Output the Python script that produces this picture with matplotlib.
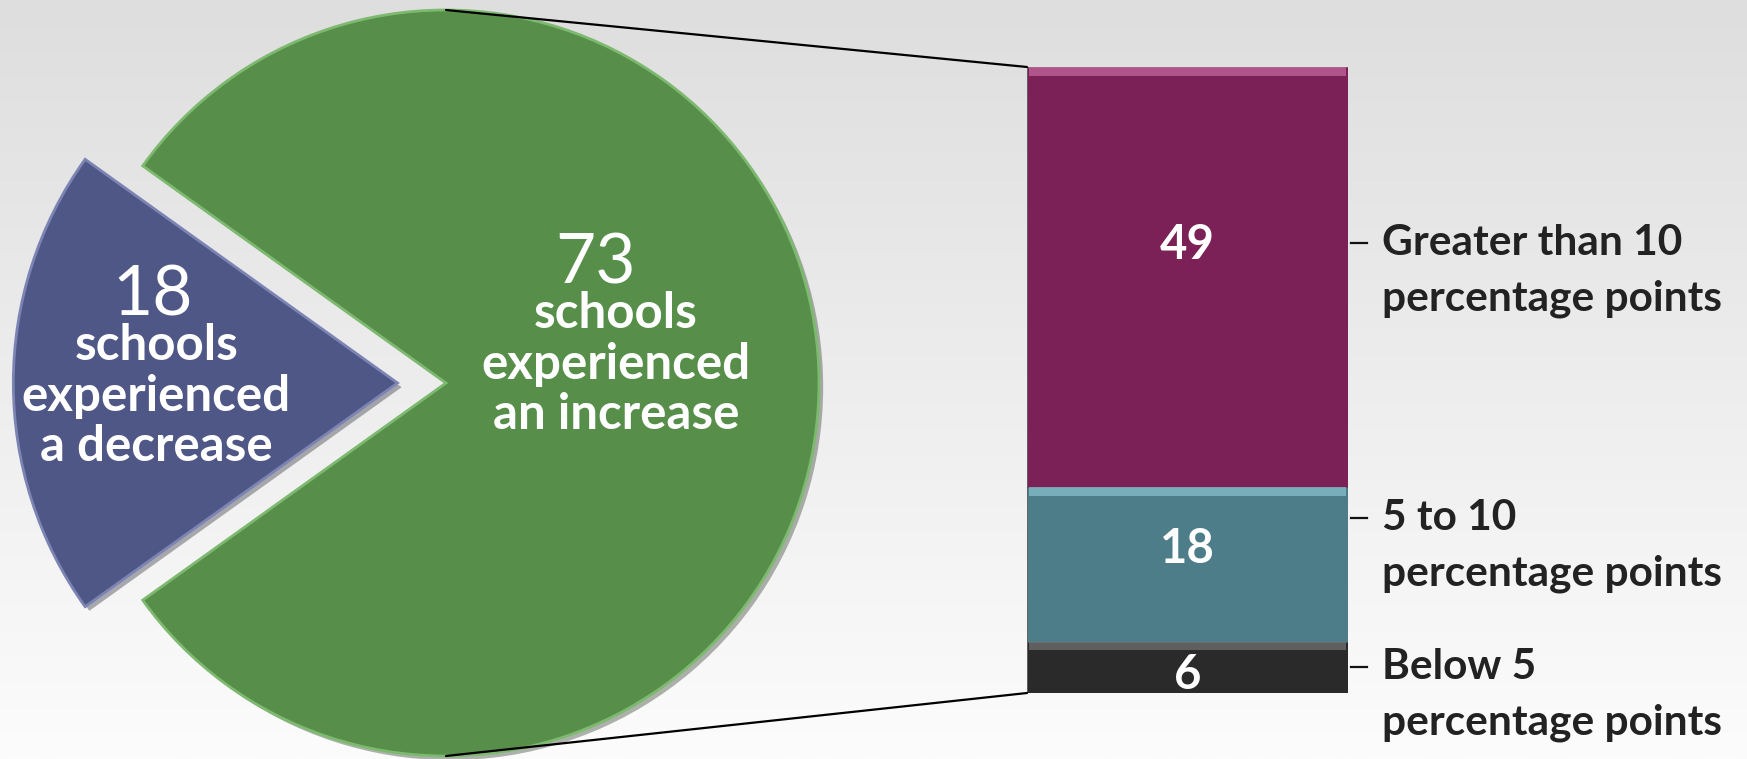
import numpy as np
import matplotlib.pyplot as plt
import matplotlib.patheffects as pe
from matplotlib.patches import ConnectionPatch
from matplotlib.colors import LinearSegmentedColormap

plt.rcParams['font.family'] = ['Lato', 'DejaVu Sans']

# pie: schools with an increase / a decrease
pie_values = [73, 18]
pie_numbers = ['73', '18']
pie_captions = [['schools', 'experienced', 'an increase'],
                ['schools', 'experienced', 'a decrease']]
pie_colors = ['#568E4A', '#4F5786']
pie_rims = ['#7DB96F', '#7C84B4']

# stacked bar: size of the increase (bottom to top)
bar_values = [6, 18, 49]
bar_labels = [['Below 5', 'percentage points'],
              ['5 to 10', 'percentage points'],
              ['Greater than 10', 'percentage points']]
bar_colors = ['#2A2A2A', '#4C7D88', '#7B2157']
bar_bevels = ['#777777', '#8CC3CF', '#C96BA2']

W, H = 1747, 759
fig = plt.figure(figsize=(W / 100, H / 100), dpi=100)


def px_box(left, top, w, h):
    return [left / W, 1 - (top + h) / H, w / W, h / H]


# background gradient
bg = fig.add_axes([0, 0, 1, 1], zorder=-10)
grad = np.linspace(0, 1, 256).reshape(-1, 1)
bg.imshow(grad, aspect='auto', extent=[0, 1, 0, 1],
          cmap=LinearSegmentedColormap.from_list('bg', ['#DEDEDE', '#FCFCFC']))
bg.axis('off')

# ---- pie ----
R = 373          # pie radius in px
cx, cy = 446, 383
half = 420
ax_pie = fig.add_axes(px_box(cx - half, cy - half, 2 * half, 2 * half))
total = sum(pie_values)
wedges, _ = ax_pie.pie(pie_values, colors=pie_colors, explode=[0, 0.13],
                       startangle=-180 * pie_values[0] / total, counterclock=True,
                       wedgeprops=dict(linewidth=2))
wedges[1].set_radius(1.03)
for w, rim in zip(wedges, pie_rims):
    w.set_edgecolor(rim)
    w.set_path_effects([pe.SimplePatchShadow(offset=(3, -3), alpha=0.35), pe.Normal()])
lim = half / R
ax_pie.set_xlim(-lim, lim)
ax_pie.set_ylim(-lim, lim)
ax_pie.axis('off')

# pie texts (positions in pie radius units): number x, number baseline, caption x
text_pos = [(0.402, 0.268, 0.456), (-0.786, 0.182, -0.777)]
for (nx, ny, tx), num, lines in zip(text_pos, pie_numbers, pie_captions):
    ax_pie.text(nx, ny, num, color='white', fontsize=50, ha='center', va='baseline')
    for k, line in enumerate(lines):
        ax_pie.text(tx, ny - 0.121 - 0.135 * k, line, color='white', fontsize=35.5,
                    fontweight='bold', ha='center', va='baseline')

# ---- stacked bar ----
ax_bar = fig.add_axes(px_box(1027, 67, 321, 626))
bottoms = np.concatenate([[0], np.cumsum(bar_values)[:-1]])
ax_bar.bar(0, bar_values, bottom=bottoms, width=1, color=bar_colors,
           edgecolor='#555555', linewidth=0.6)
bevel = 1.0
ax_bar.bar(0, bevel, bottom=bottoms + np.array(bar_values) - bevel, width=0.985,
           color=bar_bevels, alpha=0.7, linewidth=0)
ax_bar.set_xlim(-0.5, 0.5)
ax_bar.set_ylim(0, sum(bar_values))
ax_bar.axis('off')

value_y = [2.1, 16.8, 52.2]
label_y = [3.0, 20.4, 52.5]
for v, vy, ly, lines in zip(bar_values, value_y, label_y, bar_labels):
    ax_bar.text(0, vy, str(v), color='white', fontsize=34, fontweight='bold',
                ha='center', va='center')
    ax_bar.plot([0.5 + 3 / 321, 0.5 + 19 / 321], [ly, ly], color='#111111',
                lw=1.6, clip_on=False)
    ax_bar.annotate(lines[0], xy=(0.5, ly), xytext=(24.5, 0), textcoords='offset points',
                    fontsize=30.5, fontweight='bold', color='#222222', va='center')
    ax_bar.annotate(lines[1], xy=(0.5, ly), xytext=(24.5, -40.3), textcoords='offset points',
                    fontsize=30.5, fontweight='bold', color='#222222', va='center')

# connector lines from pie to bar
for yp, yb in [(1, sum(bar_values)), (-1, 0)]:
    con = ConnectionPatch(xyA=(0, yp), coordsA=ax_pie.transData,
                          xyB=(-0.5, yb), coordsB=ax_bar.transData,
                          color='black', lw=1.6)
    fig.add_artist(con)

fig.savefig('out.png', dpi=100)
